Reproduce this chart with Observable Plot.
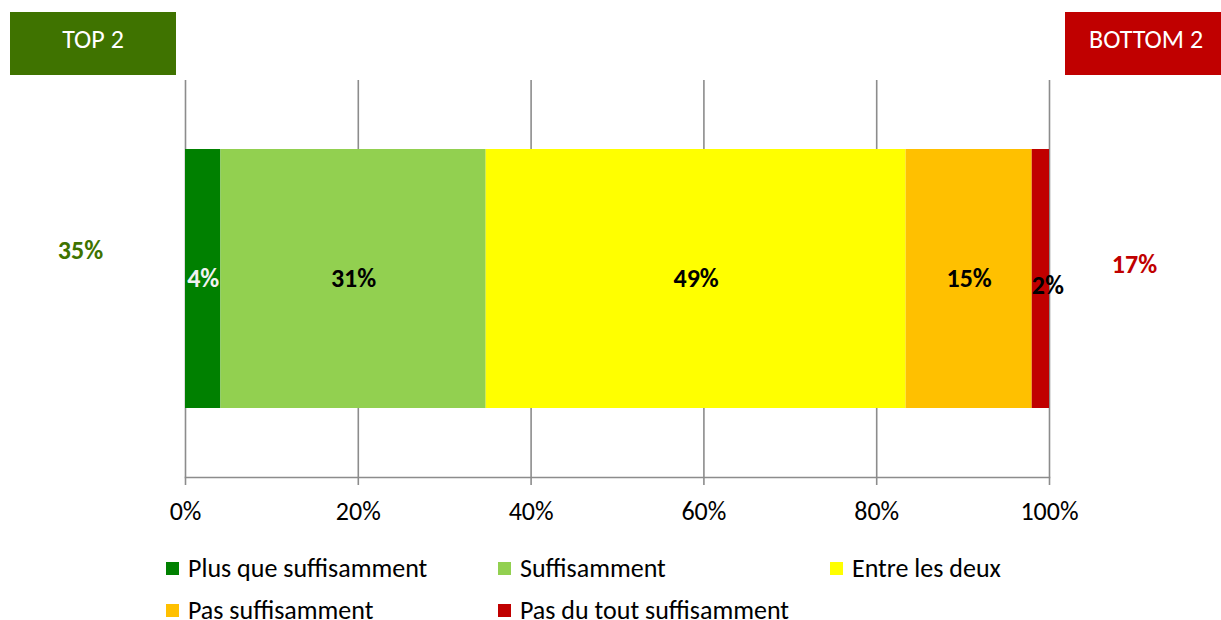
<!DOCTYPE html>
<html>
<head>
<meta charset="utf-8">
<script src="https://cdn.jsdelivr.net/npm/d3@7"></script>
<script src="https://cdn.jsdelivr.net/npm/@observablehq/plot@0.6"></script>
<style>
  body { margin: 0; background: #fff; }
  #wrap { position: relative; width: 1221px; height: 620px; overflow: hidden; font-family: Carlito, Lato, "Open Sans", sans-serif; }
  .box { position: absolute; top: 12px; height: 63px; color: #fff; font-size: 26px; display: flex; align-items: center; justify-content: center; box-sizing: border-box; padding-bottom: 9px; }
  #legend { position: absolute; left: 166px; top: 547px; display: grid; grid-template-columns: 332px 332px 332px; grid-auto-rows: 42px; }
  .item { display: flex; align-items: center; font-size: 26px; color: #000; white-space: nowrap; }
  .sw { width: 13px; height: 13px; margin-right: 9px; flex: none; }
</style>
</head>
<body>
<div id="wrap"></div>
<script>
const categories = ["Plus que suffisamment", "Suffisamment", "Entre les deux", "Pas suffisamment", "Pas du tout suffisamment"];
const values = [4.1, 30.7, 48.6, 14.6, 2.0];
const valueLabels = ["4%", "31%", "49%", "15%", "2%"];
const colors = ["#008000", "#92D050", "#FFFF00", "#FFC000", "#C00000"];
const labelColors = ["#F2F2F2", "#000000", "#000000", "#000000", "#000000"];
const ticks = [0, 20, 40, 60, 80, 100];
const tickLabels = ["0%", "20%", "40%", "60%", "80%", "100%"];
const groupNames = ["TOP 2", "BOTTOM 2"];
const groupValues = ["35%", "17%"];
const groupColors = ["#3F7300", "#C00000"];

const rows = categories.map((c, i) => ({cat: c, value: values[i], label: valueLabels[i], lc: labelColors[i], idx: i, row: "q"}));
const last = categories.length - 1;
const font = "Carlito, Lato, 'Open Sans', sans-serif";

const chart = Plot.plot({
  width: 1221,
  height: 540,
  marginLeft: 185,
  marginRight: 172,
  marginTop: 80,
  marginBottom: 63,
  style: {fontFamily: font, background: "transparent"},
  x: {domain: [0, 100], axis: null},
  y: {domain: ["q"], axis: null, padding: 0.21},
  color: {domain: categories, range: colors},
  marks: [
    Plot.gridX(ticks, {stroke: "#8c8c8c", strokeOpacity: 1, strokeWidth: 1.6}),
    Plot.barX(rows, Plot.stackX({x: "value", y: "row", fill: "cat", order: null})),
    Plot.text(rows, Plot.stackX({x: "value", y: "row", order: null,
      text: d => d.idx === last ? null : d.label, fill: "lc",
      fontSize: 26, fontWeight: "bold"})),
    Plot.text(rows, Plot.stackX({x: "value", y: "row", order: null,
      text: d => d.idx === last ? d.label : null, fill: "lc",
      fontSize: 26, fontWeight: "bold", dx: 7, dy: 7})),
    Plot.axisX(ticks, {tickFormat: (d, i) => tickLabels[i], tickSize: 8, tickPadding: 16, label: null,
      stroke: "#8c8c8c", strokeWidth: 1.6, fontSize: 26, fill: "#000", anchor: "bottom"}),
    Plot.frame({anchor: "bottom", stroke: "#8c8c8c", strokeWidth: 1.6}),
    Plot.text([groupValues[0]], {text: d => d, frameAnchor: "top-left", lineAnchor: "middle", textAnchor: "middle",
      dx: -105, dy: 170, fill: groupColors[0], fontSize: 26, fontWeight: "bold"}),
    Plot.text([groupValues[1]], {text: d => d, frameAnchor: "top-right", lineAnchor: "middle", textAnchor: "middle",
      dx: 85, dy: 184, fill: groupColors[1], fontSize: 26, fontWeight: "bold"})
  ]
});

const wrap = document.getElementById("wrap");
chart.style.position = "absolute";
chart.style.left = "0px";
chart.style.top = "0px";
wrap.appendChild(chart);

const boxPos = [{left: 10, width: 166, pad: 0}, {left: 1065, width: 170, pad: 0}];
groupNames.forEach((g, i) => {
  const b = document.createElement("div");
  b.className = "box";
  b.style.left = boxPos[i].left + "px";
  b.style.width = boxPos[i].width + "px";
  b.style.background = groupColors[i];
  b.textContent = g;
  if (i === 1) { b.style.justifyContent = "flex-start"; b.style.paddingLeft = "24px"; }
  wrap.appendChild(b);
});

const legend = document.createElement("div");
legend.id = "legend";
categories.forEach((c, i) => {
  const it = document.createElement("div");
  it.className = "item";
  const sw = document.createElement("span");
  sw.className = "sw";
  sw.style.background = colors[i];
  const t = document.createElement("span");
  t.textContent = c;
  it.appendChild(sw);
  it.appendChild(t);
  legend.appendChild(it);
});
wrap.appendChild(legend);
</script>
</body>
</html>
